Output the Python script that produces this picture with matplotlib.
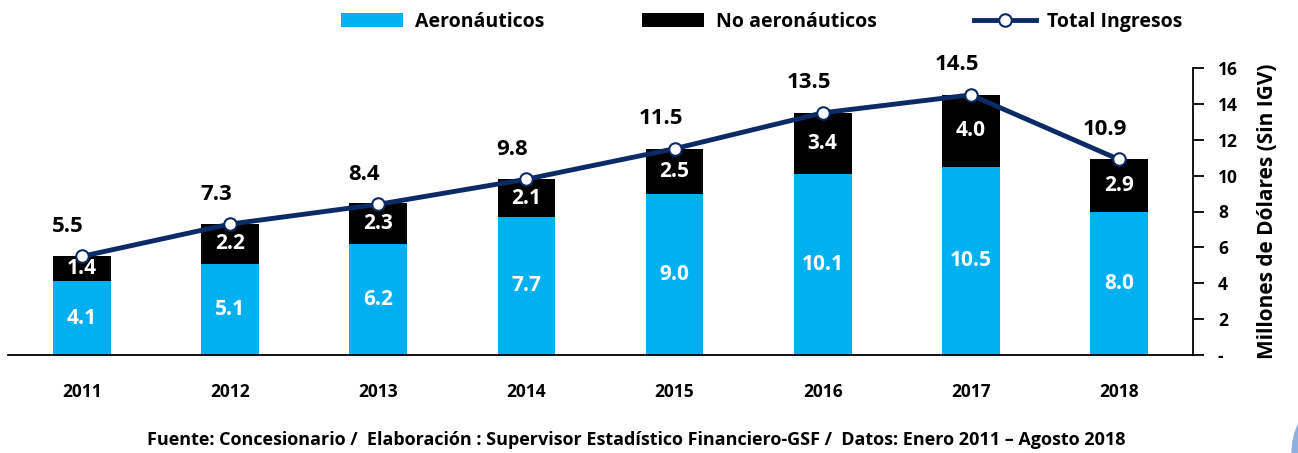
import matplotlib.pyplot as plt
from matplotlib.patches import Ellipse
import numpy as np

plt.rcParams['font.family'] = ['Open Sans', 'DejaVu Sans']

anios = ['2011', '2012', '2013', '2014', '2015', '2016', '2017', '2018']
aeronauticos = [4.1, 5.1, 6.2, 7.7, 9.0, 10.1, 10.5, 8.0]
no_aeronauticos = [1.4, 2.2, 2.3, 2.1, 2.5, 3.4, 4.0, 2.9]
total = [5.5, 7.3, 8.4, 9.8, 11.5, 13.5, 14.5, 10.9]
ticks_y = [0, 2, 4, 6, 8, 10, 12, 14, 16]
etiquetas_y = ['-', '2', '4', '6', '8', '10', '12', '14', '16']

azul = '#00B0F0'
marino = '#0B2A66'

fig = plt.figure(figsize=(12.98, 4.53), dpi=100)
ax = fig.add_axes([8/1298, 98/453, 1185/1298, 287/453])

x = np.arange(len(anios))
b1 = ax.bar(x, aeronauticos, width=0.39, color=azul, label='Aeronáuticos')
b2 = ax.bar(x, no_aeronauticos, width=0.39, bottom=aeronauticos, color='black',
            label='No aeronáuticos')
l1, = ax.plot(x, total, color=marino, lw=3.5, marker='o', markersize=9,
              markerfacecolor='white', markeredgecolor=marino, markeredgewidth=1.5,
              label='Total Ingresos', zorder=5)

for i in x:
    ax.text(i, aeronauticos[i] / 2, f'{aeronauticos[i]:.1f}', ha='center', va='center',
            color='white', fontsize=15, fontweight='bold')
    ax.text(i, aeronauticos[i] + no_aeronauticos[i] / 2, f'{no_aeronauticos[i]:.1f}',
            ha='center', va='center', color='white', fontsize=15, fontweight='bold')
    ax.annotate(f'{total[i]:.1f}', (i, total[i]), xytext=(-10, 14), textcoords='offset points',
                ha='center', va='bottom', fontsize=16, fontweight='bold')

ax.set_xlim(-0.5, 7.5)
ax.set_ylim(0, 16)
ax.set_xticks(x)
ax.set_xticklabels(anios, fontsize=12.5, fontweight='bold')
ax.tick_params(axis='x', length=0, pad=20)
ax.yaxis.tick_right()
ax.yaxis.set_label_position('right')
ax.set_yticks(ticks_y)
ax.set_yticklabels(etiquetas_y, fontsize=12.5, fontweight='bold')
ax.tick_params(axis='y', length=8, width=1.3, pad=10)
ax.set_ylabel('Millones de Dólares (Sin IGV)', fontsize=15, fontweight='bold', labelpad=14)
for s in ['top', 'left']:
    ax.spines[s].set_visible(False)
ax.spines['right'].set_linewidth(1.3)
ax.spines['bottom'].set_linewidth(1.3)

fig.legend(handles=[b1, b2, l1], loc='center', bbox_to_anchor=(762/1298, 1 - 22/453),
           ncol=3, frameon=False, prop={'size': 14, 'weight': 'bold'},
           handlelength=3.2, columnspacing=5, handletextpad=0.6)

fig.text(636/1298, 1 - 440/453,
         'Fuente: Concesionario /  Elaboración : Supervisor Estadístico Financiero-GSF /  Datos: Enero 2011 – Agosto 2018',
         ha='center', va='center', fontsize=13, fontweight='bold')

fig.patches.append(Ellipse((1322/1298, 1 - 455/453), 60/1298, 100/453,
                           transform=fig.transFigure, color='#8FAFE0', zorder=0))

fig.savefig('out.png', dpi=100)
